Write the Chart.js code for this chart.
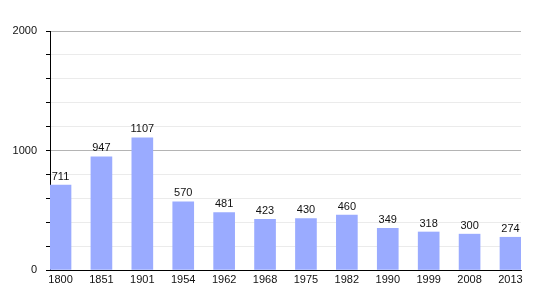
<!DOCTYPE html>
<html>
<head>
<meta charset="utf-8">
<script src="https://cdn.jsdelivr.net/npm/chart.js@4"></script>
<style>
  body { margin: 0; background: #fff; }
</style>
</head>
<body>
<canvas id="chart" width="550" height="300"></canvas>
<script>
// années et population
const years = ["1800", "1851", "1901", "1954", "1962", "1968", "1975", "1982", "1990", "1999", "2008", "2013"];
const population = [711, 947, 1107, 570, 481, 423, 430, 460, 349, 318, 300, 274];
const yTicks = [0, 1000, 2000];

const FONT = "'Liberation Sans', Arial, sans-serif";

// valeurs au-dessus des barres
const barLabels = {
  id: 'barLabels',
  afterDatasetsDraw(chart) {
    const ctx = chart.ctx;
    const meta = chart.getDatasetMeta(0);
    ctx.save();
    ctx.font = '11px ' + FONT;
    ctx.fillStyle = '#111';
    ctx.textAlign = 'center';
    ctx.textBaseline = 'bottom';
    meta.data.forEach((bar, i) => {
      ctx.fillText(String(population[i]), bar.x, bar.y - 3);
    });
    ctx.restore();
  }
};

new Chart(document.getElementById('chart'), {
  type: 'bar',
  data: {
    datasets: [{
      data: population.map((v, i) => ({ x: i, y: v })),
      backgroundColor: '#9aabff',
      borderWidth: 0,
      barThickness: 21
    }]
  },
  options: {
    responsive: false,
    animation: false,
    layout: { padding: { top: 31, right: 29, left: 0, bottom: 0 } },
    plugins: {
      legend: { display: false },
      tooltip: { enabled: false }
    },
    scales: {
      x: {
        type: 'linear',
        offset: false,
        min: -0.257,
        max: 11.257,
        afterBuildTicks: s => { s.ticks = years.map((_, i) => ({ value: i })); },
        afterFit: s => { s.height = 30; },
        grid: { display: false, drawTicks: false },
        border: { color: '#000', width: 1 },
        ticks: {
          padding: 3,
          maxRotation: 0,
          autoSkip: false,
          color: '#111',
          font: { family: FONT, size: 11 },
          callback: v => years[v]
        }
      },
      y: {
        min: 0,
        max: 2000,
        afterFit: s => { s.width = 50; },
        border: { color: '#000', width: 1 },
        grid: {
          color: c => (c.tick.value % 1000 === 0 ? '#b4b4b4' : '#ebebeb'),
          tickColor: '#000',
          tickLength: 4
        },
        ticks: {
          stepSize: 200,
          padding: 9,
          color: '#111',
          font: { family: FONT, size: 11 },
          callback: v => (yTicks.includes(v) ? String(v) : '')
        }
      }
    }
  },
  plugins: [barLabels]
});
</script>
</body>
</html>
